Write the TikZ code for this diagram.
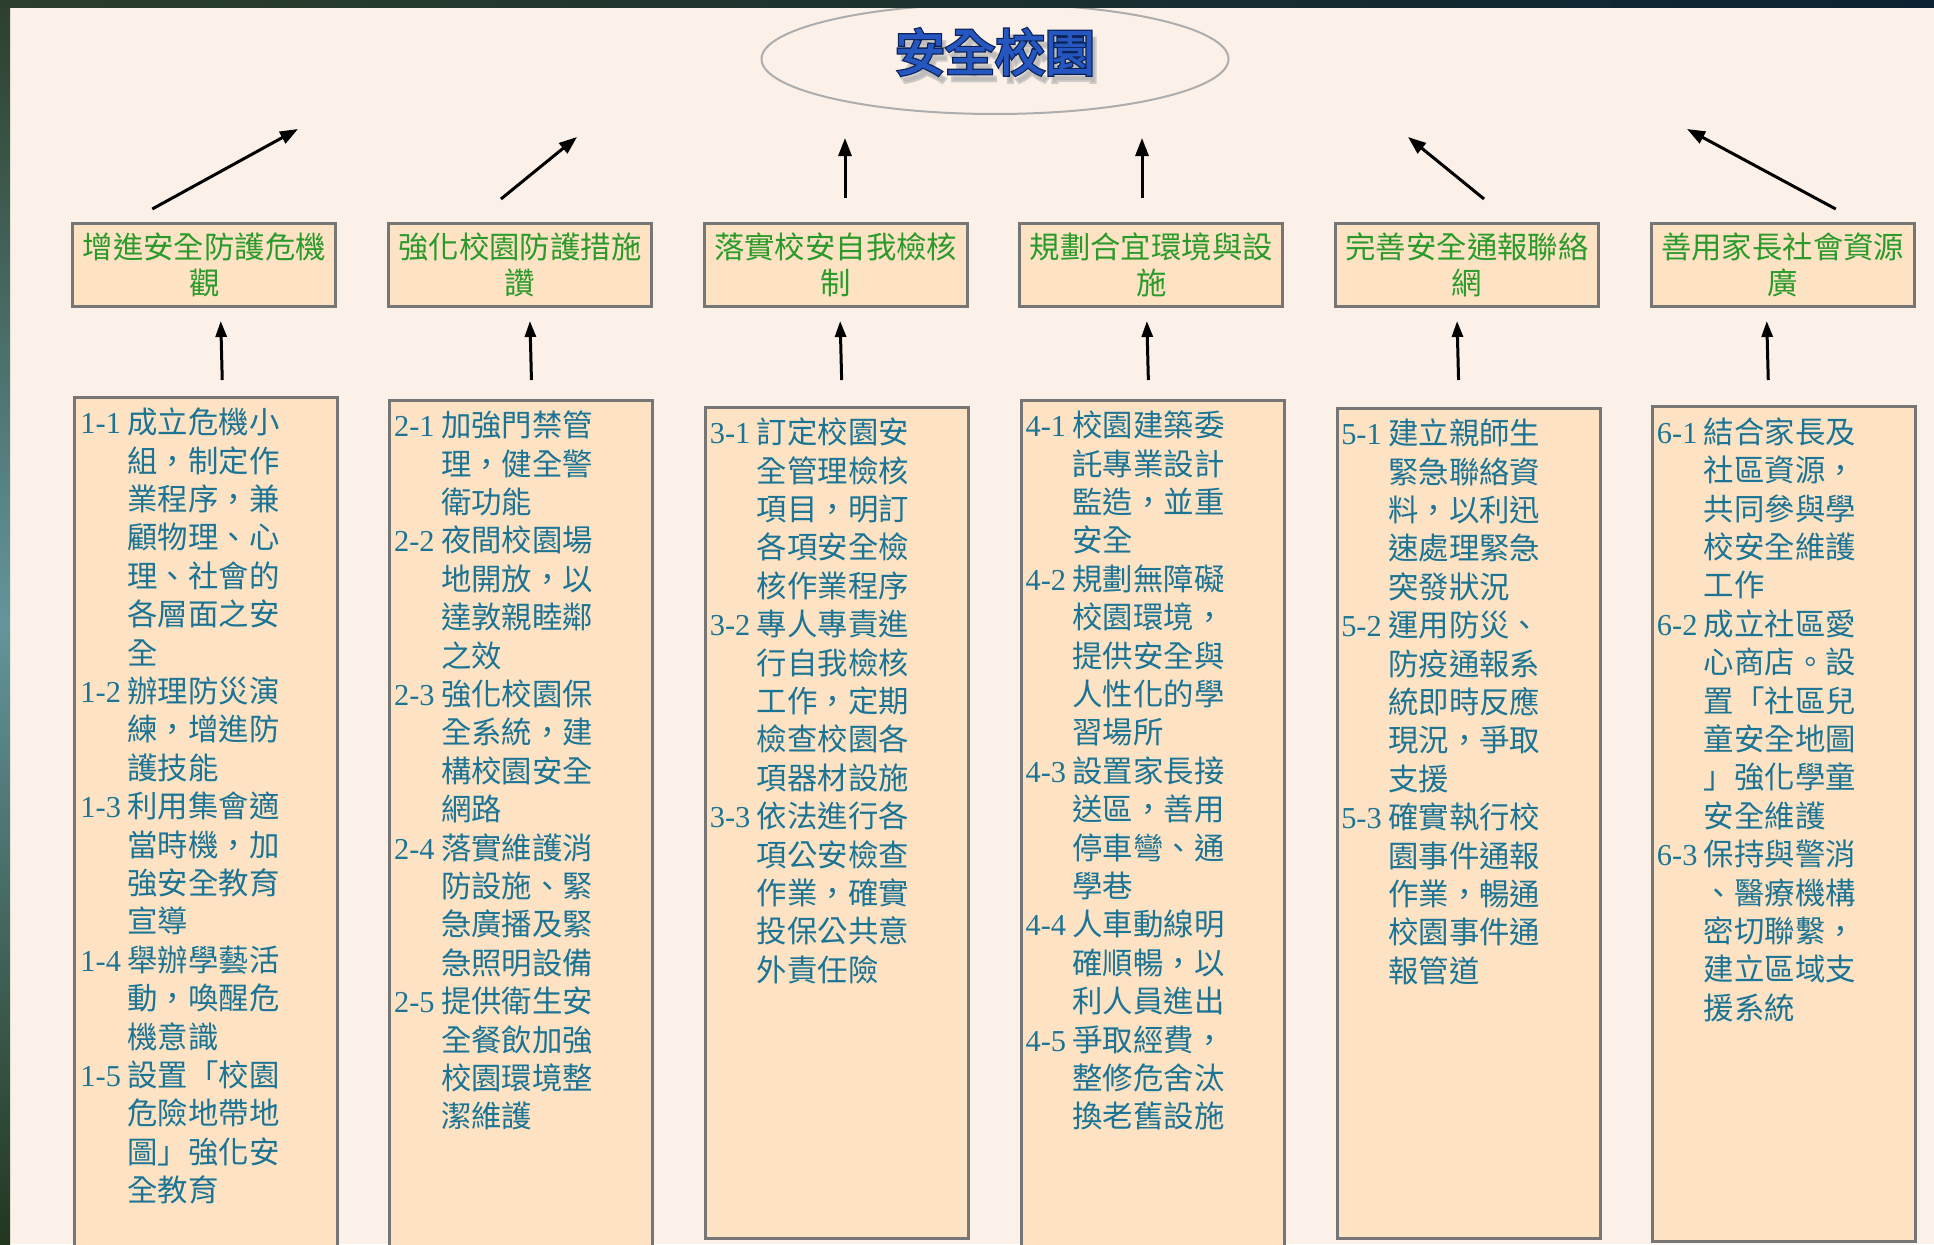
\documentclass[tikz,border=0pt]{standalone}
\usepackage{fontspec}
\setmainfont{Noto Sans CJK TC}
\newfontfamily\numfont{Liberation Serif}
\newfontfamily\titlefont{Noto Sans CJK TC}[FakeBold=2]
\newfontfamily\titleoutline{Noto Sans CJK TC}[FakeBold=7]
\usetikzlibrary{arrows.meta,calc,shapes.geometric}
\definecolor{bg}{HTML}{FCF1E8}
\definecolor{boxfill}{HTML}{FDE2C4}
\definecolor{boxdraw}{HTML}{767676}
\definecolor{hgreen}{HTML}{2A9A2A}
\definecolor{btext}{HTML}{1C7494}
\definecolor{tblue}{HTML}{2656C0}
\definecolor{tnavy}{HTML}{0C2358}
\definecolor{bandA}{HTML}{2C3F2C}
\definecolor{bandB}{HTML}{0B2232}
\definecolor{bandT}{HTML}{63959B}
\definecolor{bandD}{HTML}{22361F}
\newcommand{\firstln}[2]{\makebox[47pt][l]{\numfont #1}#2}
\newcommand{\contln}[1]{\makebox[47pt][l]{}#1}
\tikzset{
  hbox/.style={draw=boxdraw, line width=3pt, fill=boxfill, minimum width=263pt, minimum height=83pt,
    inner sep=0pt, text=hgreen, align=center, font=\fontsize{30.4}{36}\selectfont},
  bbox/.style={draw=boxdraw, line width=3pt, fill=boxfill, minimum width=263pt, inner sep=0pt, anchor=north west},
  btxt/.style={inner sep=0pt, anchor=north west, align=left, text=btext, font=\fontsize{30.4}{38.4}\selectfont},
  varr/.style={line width=3pt, -{Triangle[length=16pt,width=11pt]}},
  darr/.style={line width=3pt, -{Triangle[length=18pt,width=13pt]}},
  ttl/.style={inner sep=0pt, font=\fontsize{50}{60}\selectfont\titlefont},
}
\begin{document}
\begin{tikzpicture}[x=1pt,y=-1pt]
\useasboundingbox (0,0) rectangle (1934,1244);
\clip (0,0) rectangle (1934,1244);
\fill[bg] (0,0) rectangle (1934,1244);

% ellipse and title
\node[draw=black!32, line width=2pt, ellipse, minimum width=467pt, minimum height=110pt, inner sep=0pt] (el) at (995,59) {};
\node[ttl, text=black!30, opacity=0.6, font=\fontsize{50}{60}\selectfont\titleoutline] (tts) at (999,59) {安全校園};
\node[ttl, text=tnavy, font=\fontsize{50}{60}\selectfont\titleoutline] (tto) at (995,52) {安全校園};
\node[ttl, text=tblue] (title) at (995,52) {安全校園};

% header boxes
\node[hbox] (h1) at (204.25,265) {增進安全防護危機\\觀};
\node[hbox] (h2) at (519.95,265) {強化校園防護措施\\讚};
\node[hbox] (h3) at (835.65,265) {落實校安自我檢核\\制};
\node[hbox] (h4) at (1151.35,265) {規劃合宜環境與設\\施};
\node[hbox] (h5) at (1467.05,265) {完善安全通報聯絡\\網};
\node[hbox] (h6) at (1782.75,265) {善用家長社會資源\\廣};

% body boxes
\node[bbox, minimum height=853pt] (b1) at (72.75,395.5) {};
\node[bbox, minimum height=850pt] (b2) at (388.45,398.5) {};
\node[bbox, minimum height=831pt] (b3) at (704.15,405.5) {};
\node[bbox, minimum height=850pt] (b4) at (1019.85,398.5) {};
\node[bbox, minimum height=830pt] (b5) at (1335.55,406.5) {};
\node[bbox, minimum height=834.5pt] (b6) at (1651.25,405) {};

\node[btxt] (b1t) at ($(b1.north west)+(7.5,8)$) {\rule{0pt}{30pt}\firstln{1-1}{成立危機小}\\
\contln{組，制定作}\\ \contln{業程序，兼}\\ \contln{顧物理、心}\\ \contln{理、社會的}\\
\contln{各層面之安}\\ \contln{全}\\
\firstln{1-2}{辦理防災演}\\ \contln{練，增進防}\\ \contln{護技能}\\
\firstln{1-3}{利用集會適}\\ \contln{當時機，加}\\ \contln{強安全教育}\\ \contln{宣導}\\
\firstln{1-4}{舉辦學藝活}\\ \contln{動，喚醒危}\\ \contln{機意識}\\
\firstln{1-5}{設置「校園}\\ \contln{危險地帶地}\\ \contln{圖」強化安}\\ \contln{全教育}};

\node[btxt] (b2t) at ($(b2.north west)+(5.5,8)$) {\rule{0pt}{30pt}\firstln{2-1}{加強門禁管}\\
\contln{理，健全警}\\ \contln{衛功能}\\
\firstln{2-2}{夜間校園場}\\ \contln{地開放，以}\\ \contln{達敦親睦鄰}\\ \contln{之效}\\
\firstln{2-3}{強化校園保}\\ \contln{全系統，建}\\ \contln{構校園安全}\\ \contln{網路}\\
\firstln{2-4}{落實維護消}\\ \contln{防設施、緊}\\ \contln{急廣播及緊}\\ \contln{急照明設備}\\
\firstln{2-5}{提供衛生安}\\ \contln{全餐飲加強}\\ \contln{校園環境整}\\ \contln{潔維護}};

\node[btxt] (b3t) at ($(b3.north west)+(5.5,8)$) {\rule{0pt}{30pt}\firstln{3-1}{訂定校園安}\\
\contln{全管理檢核}\\ \contln{項目，明訂}\\ \contln{各項安全檢}\\ \contln{核作業程序}\\
\firstln{3-2}{專人專責進}\\ \contln{行自我檢核}\\ \contln{工作，定期}\\ \contln{檢查校園各}\\ \contln{項器材設施}\\
\firstln{3-3}{依法進行各}\\ \contln{項公安檢查}\\ \contln{作業，確實}\\ \contln{投保公共意}\\ \contln{外責任險}};

\node[btxt] (b4t) at ($(b4.north west)+(5.5,8)$) {\rule{0pt}{30pt}\firstln{4-1}{校園建築委}\\
\contln{託專業設計}\\ \contln{監造，並重}\\ \contln{安全}\\
\firstln{4-2}{規劃無障礙}\\ \contln{校園環境，}\\ \contln{提供安全與}\\ \contln{人性化的學}\\ \contln{習場所}\\
\firstln{4-3}{設置家長接}\\ \contln{送區，善用}\\ \contln{停車彎、通}\\ \contln{學巷}\\
\firstln{4-4}{人車動線明}\\ \contln{確順暢，以}\\ \contln{利人員進出}\\
\firstln{4-5}{爭取經費，}\\ \contln{整修危舍汰}\\ \contln{換老舊設施}};

\node[btxt] (b5t) at ($(b5.north west)+(5.5,8)$) {\rule{0pt}{30pt}\firstln{5-1}{建立親師生}\\
\contln{緊急聯絡資}\\ \contln{料，以利迅}\\ \contln{速處理緊急}\\ \contln{突發狀況}\\
\firstln{5-2}{運用防災、}\\ \contln{防疫通報系}\\ \contln{統即時反應}\\ \contln{現況，爭取}\\ \contln{支援}\\
\firstln{5-3}{確實執行校}\\ \contln{園事件通報}\\ \contln{作業，暢通}\\ \contln{校園事件通}\\ \contln{報管道}};

\node[btxt] (b6t) at ($(b6.north west)+(5.5,8)$) {\rule{0pt}{30pt}\firstln{6-1}{結合家長及}\\
\contln{社區資源，}\\ \contln{共同參與學}\\ \contln{校安全維護}\\ \contln{工作}\\
\firstln{6-2}{成立社區愛}\\ \contln{心商店。設}\\ \contln{置「社區兒}\\ \contln{童安全地圖}\\ \contln{」強化學童}\\ \contln{安全維護}\\
\firstln{6-3}{保持與警消}\\ \contln{、醫療機構}\\ \contln{密切聯繫，}\\ \contln{建立區域支}\\ \contln{援系統}};

% arrows body -> header
\draw[varr] ($(b1.north)+(16.5,-15.5)$) -- ($(h1.south)+(16.5,13)$);
\draw[varr] ($(b2.north)+(10,-18.5)$) -- ($(h2.south)+(10,13)$);
\draw[varr] ($(b3.north)+(4.5,-25.5)$) -- ($(h3.south)+(4.5,13)$);
\draw[varr] ($(b4.north)+(-4.5,-18.5)$) -- ($(h4.south)+(-4.5,13)$);
\draw[varr] ($(b5.north)+(-10,-26.5)$) -- ($(h5.south)+(-10,13)$);
\draw[varr] ($(b6.north)+(-16,-25)$) -- ($(h6.south)+(-16,13)$);

% arrows header -> title (free ends)
\coordinate (e1) at (298,129);
\coordinate (e2) at (577,137);
\coordinate (e3) at (845,138);
\coordinate (e4) at (1142,138);
\coordinate (e5) at (1408,137);
\coordinate (e6) at (1687,129);
\draw[darr] ($(h1.north)+(-52,-13)$) -- (e1);
\draw[darr] ($(h2.north)+(-19,-23)$) -- (e2);
\draw[darr] ($(h3.north)+(9.35,-24)$) -- (e3);
\draw[darr] ($(h4.north)+(-9.35,-24)$) -- (e4);
\draw[darr] ($(h5.north)+(17,-23)$) -- (e5);
\draw[darr] ($(h6.north)+(53,-13)$) -- (e6);

% frame bands
\shade[top color=bandA, bottom color=bandD, middle color=bandT] (0,0) rectangle (10,1244);
\shade[left color=bandA, right color=bandB] (0,0) rectangle (1934,7.5);
\end{tikzpicture}
\end{document}
